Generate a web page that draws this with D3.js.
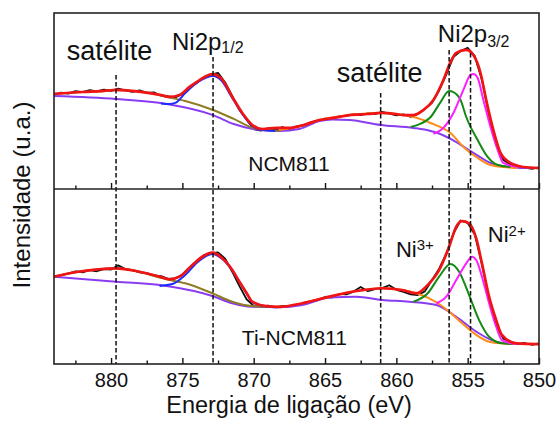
<!DOCTYPE html>
<html><head><meta charset="utf-8">
<script src="https://cdn.jsdelivr.net/npm/d3@7"></script>
<style>
body{margin:0;background:#fff}
svg{display:block}
text{font-family:"Liberation Sans",Arial,Helvetica,sans-serif;fill:#111}
</style>
</head><body>
<svg id="chart" width="558" height="430"></svg>
<script>
// ---------- DATA ----------
const xTicksMajor = [880, 875, 870, 865, 860, 855, 850];
const xTicksMinor = [882.5, 877.5, 872.5, 867.5, 862.5, 857.5, 852.5];
const xTickLabels = ["880", "875", "870", "865", "860", "855", "850"];

const rawEnergy = [884,883.5,883,882.5,882,881.5,881,880.5,880,879.5,879,878.5,878,877.5,877,876.5,876,875.5,875,874.5,874,873.5,873,872.5,872,871.5,871,870.5,870,869.5,869,868.5,868,867.5,867,866.5,866,865.5,865,864.5,864,863.5,863,862.5,862,861.5,861,860.5,860,859.5,859,858.5,858,857.5,857,856.5,856,855.5,855,854.5,854,853.5,853,852.5,852,851.5,851,850.5,850];

// raw spectrum, NCM811 (top panel)
const rawNCM = [53.5,54.8,54.2,55.6,55.0,56.2,55.4,56.4,55.8,57.0,56.0,55.2,56.1,54.6,54.9,53.0,52.6,52.0,54.0,57.6,60.2,63.5,65.0,66.0,60.5,52.8,45.0,39.5,34.0,33.2,34.5,33.6,35.2,34.0,35.6,36.0,37.8,38.6,40.0,39.8,41.2,41.5,42.4,42.0,43.0,42.6,43.8,42.8,41.8,42.4,41.0,42.6,45.5,49.0,56.0,65.0,75.0,78.4,80.2,75.5,62.0,42.0,25.0,16.5,14.0,12.8,12.2,11.5,12.3];
// raw spectrum, Ti-NCM811 (bottom panel)
const rawTi = [49.5,50.8,51.6,52.9,52.4,53.6,53.0,54.2,54.0,56.4,54.2,53.6,52.4,52.0,50.6,50.2,48.6,48.9,51.0,55.2,58.6,62.2,63.4,63.8,60.2,52.6,44.5,37.0,33.2,32.6,33.4,32.5,33.1,33.0,34.0,34.2,35.6,36.4,38.2,38.0,40.0,39.8,41.4,44.0,41.6,42.8,43.4,45.0,42.4,41.2,39.8,39.4,41.5,48.0,54.5,63.0,74.5,82.0,80.6,74.0,57.0,37.5,22.0,14.5,12.6,11.3,12.0,11.0,11.8];

// fitted curves [energy, intensity], NCM811
const fitNCM = [[884,54.0],[882,55.1],[880.5,55.7],[879.65,56.3],[878.5,55.7],[877.3,54.5],[876.5,53.4],[875.9,52.3],[875.2,53.4],[874.5,58.0],[873.8,61.9],[872.9,65.3],[872.3,63.1],[871.5,52.3],[870.8,43.2],[870.1,36.4],[869.4,34.1],[868.4,34.7],[867.5,34.7],[866.5,36.4],[865.4,39.2],[864.5,40.3],[863.3,42.0],[862,42.6],[861.1,43.2],[860,42.6],[859.5,42.0],[858.8,42.0],[858.1,44.9],[857.4,50.6],[856.7,61.9],[856.2,72.2],[855.8,77.3],[855.1,79.0],[854.6,76.1],[854.1,65.9],[853.7,50.6],[853.2,33.5],[852.7,20.5],[852.0,14.8],[851.1,12.5],[850,11.9]];
const bgNCM = [[884,52.8],[879.65,51.1],[876.1,48.3],[872.85,42.0],[871.4,36.9],[870.05,34.1],[868.2,33.0],[866.8,34.1],[865.4,38.6],[864.5,39.5],[863.3,39.2],[861.1,36.4],[858.8,34.7],[857.6,33.0],[857.1,31.8],[855.8,26.7],[854.6,20.5],[853.4,14.8],[852.0,12.5],[851.1,11.9],[850,11.9]];
const sat1NCM = [[884,54.0],[882,55.1],[880.5,55.7],[879.65,56.3],[878.5,55.7],[877.3,54.5],[876.1,52.3],[874.8,50.0],[872.85,44.9],[871.4,39.8],[870.05,34.7],[869,33.5],[868.2,33.0]];
const p12NCM = [[876.5,48.6],[875.9,48.3],[875.5,48.9],[874.8,54.5],[873.9,60.8],[872.85,64.2],[872.3,61.9],[871.5,51.7],[870.8,42.6],[870.1,35.8],[869.4,33.5],[868.5,33.0]];
const sat2NCM = [[868.2,33.5],[866.5,36.4],[865.4,39.2],[863.3,42.0],[861.1,43.2],[859.5,42.0],[858.8,40.9],[857.6,37.5],[856.2,31.8],[855.3,23.9],[854.3,17.6],[853.4,13.6],[852.5,12.5],[851.5,11.9]];
const ni3NCM = [[859.0,35.2],[858.5,36.4],[857.6,40.9],[856.9,49.4],[856.3,55.7],[856.0,55.1],[855.5,50.6],[855.1,40.9],[854.3,27.8],[853.6,18.2],[852.9,13.6],[852.0,12.5]];
const ni2NCM = [[857.4,31.3],[856.7,34.7],[856.0,43.2],[855.3,56.3],[854.8,64.8],[854.6,65.3],[854.3,63.1],[853.9,50.6],[853.4,35.2],[852.9,22.2],[852.5,14.8],[851.5,12.5]];

// fitted curves [energy, intensity], Ti-NCM811
const fitTi = [[884,49.9],[882.3,52.7],[879.65,54.7],[878,52.7],[876.6,49.9],[875.9,48.4],[875.2,49.9],[874.3,56.6],[873.6,61.3],[872.9,63.6],[872.2,60.4],[871.5,53.7],[871,47.0],[870.5,40.6],[870.1,35.6],[869.1,33.1],[868.2,32.7],[866.6,34.7],[864.7,38.5],[862.8,41.7],[861,43.3],[859.6,42.3],[858.6,40.4],[857.7,46.1],[857,53.7],[856.3,67.0],[855.8,78.5],[855.4,81.7],[854.9,80.4],[854.4,71.8],[854,57.5],[853.5,38.5],[853,25.1],[852.6,16.6],[851.6,11.8],[850.2,11.4],[850,11.4]];
const bgTi = [[884,49.9],[879.65,47.0],[876.1,44.6],[872.9,38.9],[871.5,34.7],[870.1,32.7],[868.2,32.4],[866.6,33.7],[864.7,38.0],[862.8,38.5],[861.0,36.6],[859.1,35.6],[857.2,33.7],[855.8,27.0],[854.4,18.5],[853.0,12.7],[851.6,11.4],[850,11.4]];
const sat1Ti = [[884,49.9],[882.3,52.7],[879.65,54.7],[878,52.7],[876.6,49.4],[876.1,48.4],[874.8,46.1],[872.9,40.4],[871.5,35.6],[870.1,33.1],[868.5,32.6]];
const p12Ti = [[876.6,44.6],[875.7,45.7],[874.8,50.9],[873.9,58.5],[872.9,62.9],[872.2,60.0],[871.5,53.4],[871.0,46.9],[870.5,40.3],[870.1,35.4],[869.1,32.9],[868.3,32.4]];
const sat2Ti = [[866.6,34.7],[864.7,38.5],[862.8,41.7],[861.0,43.3],[859.6,42.3],[858.6,40.4],[857.7,37.5],[856.9,33.7],[856.3,29.9],[855.4,23.3],[854.4,16.6],[853.5,12.7],[852.5,11.7],[851.6,11.4]];
const ni3Ti = [[858.8,35.6],[857.8,40.4],[857.0,49.9],[856.2,57.1],[855.6,52.7],[854.9,39.4],[854.2,25.1],[853.5,15.6],[852.6,11.8],[851.8,11.4]];
const ni2Ti = [[857.2,34.7],[856.5,38.5],[855.8,48.0],[855.1,57.5],[854.7,61.3],[854.4,59.4],[854.0,49.9],[853.5,34.7],[853.0,21.3],[852.6,13.7],[851.6,11.4]];

// reference lines: energy and where they start (top panel intensity)
const refEnergy = [879.65, 872.85, 861.1, 856.3, 854.8];
const refStart = [64.8, 75.0, 54.5, 79.0, 77.3];

// ---------- LAYOUT ----------
const svg = d3.select("#chart");
const L = 54, R = 539, T = 13, MID = 189, B = 364;
const x = d3.scaleLinear().domain([884, 850]).range([L, R]);
const yTop = d3.scaleLinear().domain([0, 100]).range([MID, T]);
const yBot = d3.scaleLinear().domain([0, 100]).range([B, MID]);

const colors = {raw:"#111", fit:"#f01414", bg:"#8a3cf2", sat1:"#8e7d22", p12:"#1e2cff", sat2:"#ff8c1a", ni3:"#148a14", ni2:"#ff1eff"};

const defs = svg.append("defs");
defs.append("clipPath").attr("id","clipTop").append("rect").attr("x",L).attr("y",T).attr("width",R-L).attr("height",MID-T);
defs.append("clipPath").attr("id","clipBot").append("rect").attr("x",L).attr("y",MID).attr("width",R-L).attr("height",B-MID);

const panels = [
  {y:yTop, clip:"clipTop", raw:rawNCM, fit:fitNCM, bg:bgNCM, sat1:sat1NCM, p12:p12NCM, sat2:sat2NCM, ni3:ni3NCM, ni2:ni2NCM},
  {y:yBot, clip:"clipBot", raw:rawTi, fit:fitTi, bg:bgTi, sat1:sat1Ti, p12:p12Ti, sat2:sat2Ti, ni3:ni3Ti, ni2:ni2Ti}
];

panels.forEach(p => {
  const g = svg.append("g").attr("clip-path", `url(#${p.clip})`);
  const rawLine = d3.line().x((d,i) => x(rawEnergy[i])).y(d => p.y(d));
  const sm = d3.line().x(d => x(d[0])).y(d => p.y(d[1])).curve(d3.curveMonotoneX);
  g.append("path").attr("d", rawLine(p.raw)).attr("fill","none").attr("stroke",colors.raw).attr("stroke-width",1.8).attr("stroke-linejoin","round");
  ["bg","sat1","p12","sat2","ni3","ni2"].forEach(k => {
    g.append("path").attr("d", sm(p[k])).attr("fill","none").attr("stroke",colors[k]).attr("stroke-width",2).attr("stroke-linejoin","round");
  });
  g.append("path").attr("d", sm(p.fit)).attr("fill","none").attr("stroke",colors.fit).attr("stroke-width",2.7).attr("stroke-linejoin","round");
});

// dashed reference lines
svg.append("g").selectAll("line").data(refEnergy).join("line")
  .attr("x1", d => x(d)).attr("x2", d => x(d))
  .attr("y1", (d,i) => yTop(refStart[i])).attr("y2", yBot(0))
  .attr("stroke","#111").attr("stroke-width",1.5).attr("stroke-dasharray","4.5,2.5");

// ticks (inward, bottom of each panel)
[yTop, yBot].forEach(ys => {
  const gy = ys(0);
  svg.append("g").attr("transform",`translate(0,${gy})`)
    .call(d3.axisTop(x).tickValues(xTicksMajor).tickSize(6).tickFormat(""))
    .call(g => g.select(".domain").remove())
    .call(g => g.selectAll("line").attr("stroke","#111").attr("stroke-width",1.4));
  svg.append("g").attr("transform",`translate(0,${gy})`)
    .call(d3.axisTop(x).tickValues(xTicksMinor).tickSize(3.5).tickFormat(""))
    .call(g => g.select(".domain").remove())
    .call(g => g.selectAll("line").attr("stroke","#111").attr("stroke-width",1.4));
});

// tick labels
svg.append("g").attr("transform",`translate(0,${B})`)
  .call(d3.axisBottom(x).tickValues(xTicksMajor).tickSize(0).tickPadding(9).tickFormat((d,i) => xTickLabels[i]))
  .call(g => g.select(".domain").remove())
  .call(g => g.selectAll("text").attr("font-size",20).attr("fill","#111").style("font-family","'Liberation Sans',Arial,sans-serif"));

// frame
svg.append("rect").attr("x",L).attr("y",T).attr("width",R-L).attr("height",B-T)
  .attr("fill","none").attr("stroke","#222").attr("stroke-width",1.6);
svg.append("line").attr("x1",L).attr("x2",R).attr("y1",MID).attr("y2",MID)
  .attr("stroke","#222").attr("stroke-width",1.6);

// axis titles
svg.append("text").attr("x", 289).attr("y", 413).attr("text-anchor","middle").attr("font-size",23.5)
  .text("Energia de ligação (eV)");
svg.append("text").attr("transform","translate(30,195) rotate(-90)").attr("text-anchor","middle").attr("font-size",24)
  .text("Intensidade (u.a.)");

// annotations
function label(e, v, ys, main, small, smallDy, size, smallSize, anchor) {
  const t = svg.append("text").attr("x", x(e)).attr("y", ys(v)).attr("font-size", size)
    .attr("text-anchor", anchor || "start");
  t.append("tspan").text(main);
  if (small) t.append("tspan").attr("dy", smallDy).attr("font-size", smallSize).text(small);
}
label(883.1, 73.3, yTop, "satélite", null, 0, 27);
label(875.73, 79.0, yTop, "Ni2p", "1/2", 3, 24, 16);
label(864.17, 60.8, yTop, "satélite", null, 0, 27);
label(857.09, 83.5, yTop, "Ni2p", "3/2", 5, 24, 16);
label(867.53, 10.2, yTop, "NCM811", null, 0, 21, 0, "middle");
label(870.83, 10.9, yBot, "Ti-NCM811", null, 0, 21);
label(860.03, 61.1, yBot, "Ni", "3+", -7, 22, 15);
label(853.59, 69.7, yBot, "Ni", "2+", -6, 22, 15);
</script>
</body></html>
